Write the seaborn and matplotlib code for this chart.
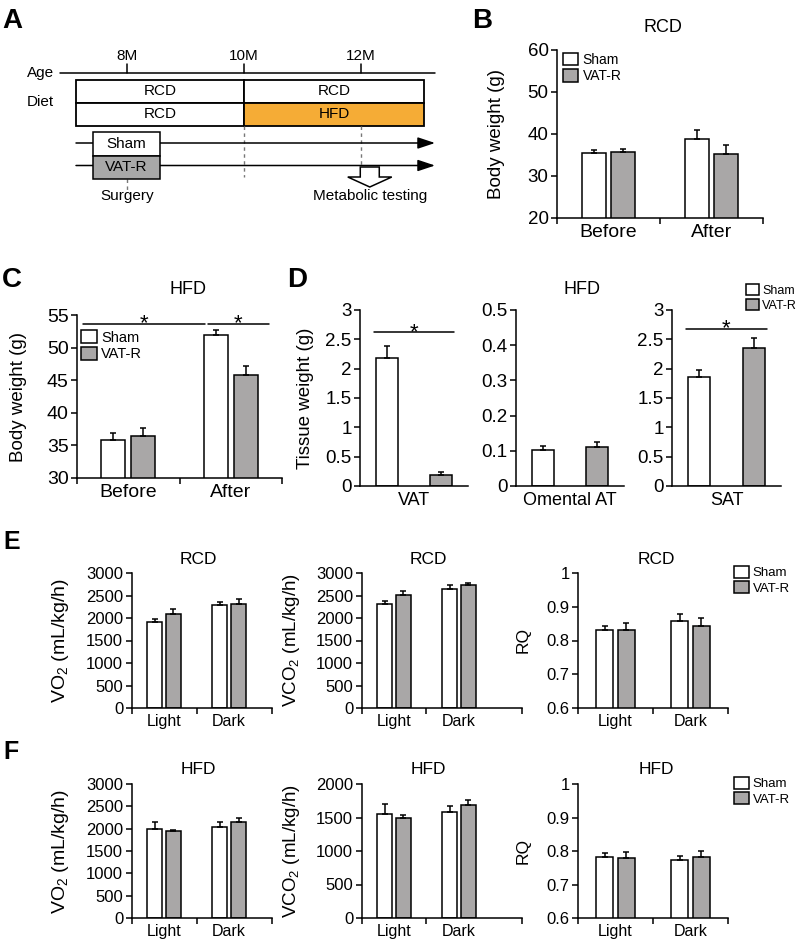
import numpy as np
import pandas as pd
import seaborn as sns
import matplotlib.pyplot as plt
import matplotlib.transforms as mtransforms
from matplotlib.container import BarContainer
from matplotlib.patches import Patch, Rectangle, FancyArrow

W, H = 800, 948

groups = ["Sham", "VAT-R"]
bar_colors = {"Sham": "#FFFFFF", "VAT-R": "#A9A7A7"}
hfd_color = "#F5AC36"

# A: study schedule
age_marks = [8, 10, 12]
age_labels = ["8M", "10M", "12M"]
diet_top = ["RCD", "RCD"]
diet_bottom = ["RCD", "HFD"]
diet_switch_age = 10
surgery_age = 8
testing_age = 12.15

# B / C: body weight (g)
periods = ["Before", "After"]
rcd_bw_sham = [35.5, 38.9]
rcd_bw_sham_err = [0.6, 2.0]
rcd_bw_vatr = [35.8, 35.3]
rcd_bw_vatr_err = [0.7, 2.0]

hfd_bw_sham = [35.8, 51.9]
hfd_bw_sham_err = [1.1, 0.8]
hfd_bw_vatr = [36.4, 45.8]
hfd_bw_vatr_err = [1.2, 1.4]

# D: tissue weight (g), HFD
tissues = ["VAT", "Omental AT", "SAT"]
tissue_sham = [2.19, 0.102, 1.85]
tissue_sham_err = [0.20, 0.013, 0.13]
tissue_vatr = [0.19, 0.112, 2.36]
tissue_vatr_err = [0.05, 0.012, 0.16]

# E / F: metabolic cages
phases = ["Light", "Dark"]
rcd_vo2_sham = [1920, 2285]
rcd_vo2_sham_err = [67, 68]
rcd_vo2_vatr = [2085, 2308]
rcd_vo2_vatr_err = [110, 112]
rcd_vco2_sham = [2310, 2650]
rcd_vco2_sham_err = [65, 90]
rcd_vco2_vatr = [2517, 2725]
rcd_vco2_vatr_err = [74, 55]
rcd_rq_sham = [0.830, 0.858]
rcd_rq_sham_err = [0.014, 0.020]
rcd_rq_vatr = [0.830, 0.842]
rcd_rq_vatr_err = [0.021, 0.024]

hfd_vo2_sham = [1995, 2030]
hfd_vo2_sham_err = [165, 125]
hfd_vo2_vatr = [1944, 2140]
hfd_vo2_vatr_err = [22, 90]
hfd_vco2_sham = [1545, 1581]
hfd_vco2_sham_err = [160, 89]
hfd_vco2_vatr = [1498, 1680]
hfd_vco2_vatr_err = [34, 74]
hfd_rq_sham = [0.781, 0.773]
hfd_rq_sham_err = [0.014, 0.013]
hfd_rq_vatr = [0.778, 0.783]
hfd_rq_vatr_err = [0.019, 0.018]

sns.set_style("ticks", {"axes.edgecolor": "black", "xtick.color": "black",
                        "ytick.color": "black", "text.color": "black",
                        "axes.labelcolor": "black"})
plt.rcParams["font.family"] = ["Liberation Sans", "DejaVu Sans"]
plt.rcParams["mathtext.fontset"] = "custom"
plt.rcParams["mathtext.rm"] = "Liberation Sans"
plt.rcParams["mathtext.it"] = "Liberation Sans:italic"
plt.rcParams["axes.linewidth"] = 1.1

fig = plt.figure(figsize=(W / 100, H / 100), dpi=100)
# pixel coordinates, origin top-left
px = mtransforms.Affine2D().scale(1 / W, -1 / H).translate(0, 1) + fig.transFigure


def rect(x0, y0, x1, y1):
    return [x0 / W, 1 - y1 / H, (x1 - x0) / W, (y1 - y0) / H]


def ftext(x, y, s, **kw):
    kw.setdefault("ha", "center")
    kw.setdefault("va", "baseline")
    fig.text(x, y, s, transform=px, **kw)


def bar_panel(box, cats, sham, sham_err, vatr, vatr_err, ylim, yticks, ylabel, ylabel_x,
              xmax=None, width=0.58, gap=0.2, tick_fs=13, xtick_fs=14, ylabel_fs=13.5,
              bounds=True):
    ax = fig.add_axes(rect(*box))
    df = pd.DataFrame({
        "cat": list(cats) * 2,
        "group": [groups[0]] * len(cats) + [groups[1]] * len(cats),
        "value": list(sham) + list(vatr),
    })
    sns.barplot(data=df, x="cat", y="value", hue="group", order=cats, hue_order=groups,
                palette=bar_colors, saturation=1, edgecolor="black", linewidth=1.1,
                width=width, gap=gap, errorbar=None, legend=False, ax=ax)
    bar_conts = [c for c in ax.containers if isinstance(c, BarContainer)]
    for cont, err in zip(bar_conts, [sham_err, vatr_err]):
        xs = [p.get_x() + p.get_width() / 2 for p in cont]
        ys = [p.get_y() + p.get_height() for p in cont]
        ax.errorbar(xs, ys, yerr=[np.zeros(len(err)), err], fmt="none", ecolor="black",
                    elinewidth=1.1, capsize=2, capthick=1.1, zorder=3)
    ax.set_ylim(*ylim)
    ax.set_yticks(yticks)
    ax.set_yticklabels([f"{v:g}" for v in yticks])
    n = len(cats)
    ax.set_xlim(-0.5, xmax if xmax is not None else n - 0.5)
    ax.set_xticks(range(n))
    ax.set_xticklabels(cats)
    ax.tick_params(axis="x", which="major", length=0, labelsize=xtick_fs, pad=4)
    if bounds:
        ax.set_xticks([i - 0.5 for i in range(n)] + [ax.get_xlim()[1]], minor=True)
        ax.tick_params(axis="x", which="minor", length=4, width=1.1, direction="out")
    ax.tick_params(axis="y", length=4, width=1.1, direction="out", labelsize=tick_fs, pad=2)
    ax.set_xlabel("")
    ax.set_ylabel(ylabel, fontsize=ylabel_fs)
    ax.yaxis.set_label_coords(ylabel_x, (box[1] + box[3]) / 2, transform=px)
    sns.despine(ax=ax)
    return ax, bar_conts


def add_legend(x, y, fs, hl=1.1, hh=1.0):
    handles = [Patch(facecolor=bar_colors[g], edgecolor="black", linewidth=1.1) for g in groups]
    fig.legend(handles, groups, loc="upper left", bbox_to_anchor=(x, y), bbox_transform=px,
               frameon=False, fontsize=fs, borderpad=0, borderaxespad=0, handlelength=hl,
               handleheight=hh, handletextpad=0.3, labelspacing=0.15)


def sig(ax, x0, x1, y, fs=16):
    ax.plot([x0, x1], [y, y], color="black", lw=1.1)
    ax.text((x0 + x1) / 2, y, "*", ha="center", va="center", fontsize=fs)


# ---------------- A ----------------
mpp = 58.5  # pixels per month in the schedule
axA = fig.add_axes(rect(0, 0, 450, 210))
axA.set_xlim(8 - 127 / mpp, 8 + 323 / mpp)
axA.set_ylim(210, 0)
axA.axis("off")


def mx(p):
    return 8 + (p - 127) / mpp


fsA = 11
axA.plot([mx(60), mx(435)], [73, 73], color="black", lw=1.1)
for a, lab in zip(age_marks, age_labels):
    axA.plot([a, a], [64, 73], color="black", lw=1.1)
    axA.text(a, 60, lab, ha="center", va="baseline", fontsize=fsA)
axA.text(mx(27), 77, "Age", ha="left", va="baseline", fontsize=fsA)
axA.text(mx(27), 106, "Diet", ha="left", va="baseline", fontsize=fsA)

d0, d1 = mx(76), mx(424)
for row, (labels, y0) in enumerate([(diet_top, 79.5), (diet_bottom, 102.5)]):
    spans = [(d0, diet_switch_age), (diet_switch_age, d1)]
    for (s0, s1), lab in zip(spans, labels):
        fc = hfd_color if lab == "HFD" else "white"
        axA.add_patch(Rectangle((s0, y0), s1 - s0, 23, facecolor=fc, edgecolor="black", lw=1.3))
        axA.text((s0 + s1) / 2, y0 + 11.5, lab, ha="center", va="center", fontsize=fsA)

# group arrows
for y in [143, 165.5]:
    axA.annotate("", xy=(mx(435), y), xytext=(d0, y),
                 arrowprops=dict(arrowstyle="-|>,head_length=0.75,head_width=0.25",
                                 color="black", lw=1.1, mutation_scale=14,
                                 shrinkA=0, shrinkB=0))

# guide lines
dash = dict(color="#777777", lw=1, linestyle=(0, (2.5, 2.5)))
axA.plot([surgery_age, surgery_age], [179, 190], **dash)
axA.plot([diet_switch_age, diet_switch_age], [126, 177], **dash)
axA.plot([12, 12], [126, 167], **dash)

# surgery boxes
s0, s1 = mx(93), mx(160)
axA.add_patch(Rectangle((s0, 132), s1 - s0, 23.5, facecolor="white", edgecolor="black", lw=1.1, zorder=3))
axA.add_patch(Rectangle((s0, 155.5), s1 - s0, 23.5, facecolor="#A8A8A8", edgecolor="black", lw=1.1, zorder=3))
axA.text((s0 + s1) / 2, 144, groups[0], ha="center", va="center", fontsize=fsA, zorder=4)
axA.text((s0 + s1) / 2, 167, groups[1], ha="center", va="center", fontsize=fsA, zorder=4)

axA.add_patch(FancyArrow(testing_age, 167, 0, 20, width=19 / mpp, head_width=44 / mpp,
                         head_length=10, length_includes_head=True,
                         facecolor="white", edgecolor="black", lw=1.1, zorder=3))
axA.text(surgery_age, 196, "Surgery", ha="center", va="center", fontsize=fsA)
axA.text(testing_age, 196, "Metabolic testing", ha="center", va="center", fontsize=fsA)

# ---------------- B ----------------
bar_panel((557, 50, 763, 218), periods, rcd_bw_sham, rcd_bw_sham_err, rcd_bw_vatr,
          rcd_bw_vatr_err, (20, 60), [20, 30, 40, 50, 60], "Body weight (g)", 505,
          tick_fs=13.5, xtick_fs=14)
ftext(663, 32, "RCD", fontsize=13)
add_legend(563, 53, 10)

# ---------------- C ----------------
c_sig = [(-0.44, 0.75), (0.78, 1.37)]
c_sig_level = 53.6
axC, _ = bar_panel((77, 315, 282, 478), periods, hfd_bw_sham, hfd_bw_sham_err, hfd_bw_vatr,
                   hfd_bw_vatr_err, (30, 55), [30, 35, 40, 45, 50, 55], "Body weight (g)", 27,
                   tick_fs=14, xtick_fs=14)
for x0, x1 in c_sig:
    sig(axC, x0, x1, c_sig_level)
ftext(188, 294, "HFD", fontsize=13)
add_legend(81, 330, 10.5)

# ---------------- D ----------------
d_boxes = [(360, 310, 468, 486), (516, 310, 624, 486), (672, 310, 781, 486)]
d_ylims = [(0, 3), (0, 0.5), (0, 3)]
d_ticks = [[0, 0.5, 1, 1.5, 2, 2.5, 3], [0, 0.1, 0.2, 0.3, 0.4, 0.5], [0, 0.5, 1, 1.5, 2, 2.5, 3]]
d_labels = ["Tissue weight (g)", "", ""]
d_sig_levels = {0: 2.62, 2: 2.68}
for i, tissue in enumerate(tissues):
    ax, conts = bar_panel(d_boxes[i], [tissue], [tissue_sham[i]], [tissue_sham_err[i]],
                          [tissue_vatr[i]], [tissue_vatr_err[i]], d_ylims[i], d_ticks[i],
                          d_labels[i], 314, width=1.0, gap=0.6, tick_fs=13.5, xtick_fs=13,
                          bounds=False)
    if i in d_sig_levels:
        bars = [p for c in conts for p in c]
        x0 = min(p.get_x() for p in bars) - 0.02
        x1 = max(p.get_x() + p.get_width() for p in bars) + 0.02
        sig(ax, x0, x1, d_sig_levels[i])
ftext(582, 294, "HFD", fontsize=13)
add_legend(746, 284, 9, hl=1.0, hh=1.0)

# ---------------- E / F ----------------
ef_cols = [(131.5, 272, 1.66, "VO$_2$ (mL/kg/h)", 71, 14),
           (361.5, 522, 1.97, "VCO$_2$ (mL/kg/h)", 302, 13.5),
           (578, 728, 1.5, "RQ", 531, 12.5)]
ef_rows = [
    ("RCD", 573, 708, [
        (rcd_vo2_sham, rcd_vo2_sham_err, rcd_vo2_vatr, rcd_vo2_vatr_err, (0, 3000), list(range(0, 3001, 500))),
        (rcd_vco2_sham, rcd_vco2_sham_err, rcd_vco2_vatr, rcd_vco2_vatr_err, (0, 3000), list(range(0, 3001, 500))),
        (rcd_rq_sham, rcd_rq_sham_err, rcd_rq_vatr, rcd_rq_vatr_err, (0.6, 1.0), [0.6, 0.7, 0.8, 0.9, 1.0]),
    ], 564),
    ("HFD", 784, 918, [
        (hfd_vo2_sham, hfd_vo2_sham_err, hfd_vo2_vatr, hfd_vo2_vatr_err, (0, 3000), list(range(0, 3001, 500))),
        (hfd_vco2_sham, hfd_vco2_sham_err, hfd_vco2_vatr, hfd_vco2_vatr_err, (0, 2000), list(range(0, 2001, 500))),
        (hfd_rq_sham, hfd_rq_sham_err, hfd_rq_vatr, hfd_rq_vatr_err, (0.6, 1.0), [0.6, 0.7, 0.8, 0.9, 1.0]),
    ], 774),
]
title_x = [198, 428, 656]
for diet, y0, y1, panels, title_y in ef_rows:
    for (x0, x1, xmax, ylab, ylx, ylfs), (s, se, v, ve, yl, yt), tx in zip(ef_cols, panels, title_x):
        bar_panel((x0, y0, x1, y1), phases, s, se, v, ve, yl, yt, ylab, ylx, xmax=xmax,
                  tick_fs=12, xtick_fs=11.5, ylabel_fs=ylfs)
        ftext(tx, title_y, diet, fontsize=12.5)
    add_legend(734, y0 - 7, 9.5)

# panel letters
for lab, x, y, fs in [("A", 2, 28, 20), ("B", 472, 28, 20), ("C", 2, 287, 20),
                      ("D", 287, 287, 20), ("E", 3, 549, 18), ("F", 3, 759, 18)]:
    ftext(x, y, lab, fontsize=fs, fontweight="bold", ha="left")

fig.savefig("out.png", dpi=100)
